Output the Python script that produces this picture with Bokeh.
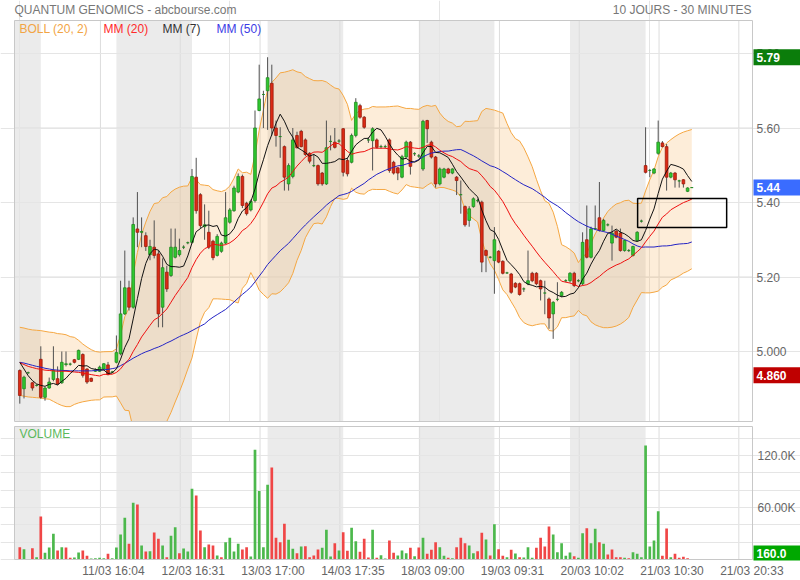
import numpy as np
import pandas as pd
from bokeh.plotting import figure
from bokeh.layouts import column
from bokeh.models import Range1d, FixedTicker, BoxAnnotation, ColumnDataSource
from bokeh.core.properties import value
from bokeh.embed import file_html
from bokeh.resources import INLINE

# ---------------- data ----------------
opens = [4.949, 4.900, 4.943, 4.916, 4.909, 4.979, 4.877, 4.902, 4.925, 4.927,
         4.916, 4.965, 4.966, 4.978, 4.979, 4.992, 4.953, 4.928, 4.947, 4.947,
         4.953, 4.964, 4.945, 4.971, 4.994, 5.101, 5.171, 5.119, 5.329, 5.320,
         5.311, 5.260, 5.280, 5.262, 5.119, 5.213, 5.204, 5.253, 5.260, 5.280,
         5.292, 5.293, 5.468, 5.421, 5.335, 5.320, 5.296, 5.258, 5.269, 5.291,
         5.347, 5.378, 5.428, 5.470, 5.398, 5.380, 5.405, 5.647, 5.690, 5.700,
         5.720, 5.600, 5.577, 5.550, 5.450, 5.470, 5.580, 5.591, 5.568, 5.532,
         5.499, 5.499, 5.479, 5.450, 5.564, 5.562, 5.565, 5.598, 5.513, 5.508,
         5.580, 5.660, 5.629, 5.568, 5.566, 5.568, 5.550, 5.550, 5.568, 5.508,
         5.493, 5.468, 5.522, 5.562, 5.531, 5.525, 5.490, 5.620, 5.562, 5.522,
         5.450, 5.468, 5.490, 5.479, 5.468, 5.421, 5.389, 5.352, 5.389, 5.405,
         5.401, 5.271, 5.253, 5.244, 5.269, 5.242, 5.211, 5.208, 5.183, 5.182,
         5.168, 5.182, 5.210, 5.210, 5.190, 5.157, 5.141, 5.101, 5.140, 5.150,
         5.190, 5.190, 5.210, 5.190, 5.182, 5.300, 5.253, 5.330, 5.359, 5.325,
         5.340, 5.291, 5.323, 5.318, 5.271, 5.271, 5.258, 5.298, 5.350, 5.499,
         5.486, 5.479, 5.532, 5.560, 5.550, 5.468, 5.479, 5.458, 5.461, 5.430,
         5.440]
highs = [4.952, 4.935, 4.946, 4.918, 4.912, 5.014, 4.905, 4.930, 5.014, 4.960,
         5.000, 5.000, 4.970, 4.980, 5.005, 4.995, 4.955, 4.930, 4.955, 4.962,
         4.969, 4.972, 4.948, 5.043, 5.190, 5.271, 5.190, 5.360, 5.428, 5.360,
         5.320, 5.300, 5.352, 5.270, 5.250, 5.230, 5.330, 5.330, 5.303, 5.285,
         5.295, 5.490, 5.520, 5.425, 5.395, 5.378, 5.300, 5.315, 5.295, 5.428,
         5.385, 5.445, 5.478, 5.475, 5.402, 5.408, 5.647, 5.770, 5.700, 5.790,
         5.770, 5.620, 5.602, 5.553, 5.505, 5.600, 5.590, 5.595, 5.572, 5.535,
         5.530, 5.502, 5.482, 5.620, 5.580, 5.600, 5.570, 5.600, 5.520, 5.585,
         5.680, 5.665, 5.632, 5.575, 5.602, 5.572, 5.555, 5.555, 5.572, 5.512,
         5.495, 5.528, 5.566, 5.565, 5.535, 5.530, 5.622, 5.622, 5.566, 5.525,
         5.494, 5.493, 5.493, 5.492, 5.471, 5.459, 5.392, 5.390, 5.414, 5.410,
         5.405, 5.274, 5.256, 5.334, 5.272, 5.245, 5.214, 5.211, 5.186, 5.185,
         5.172, 5.271, 5.214, 5.213, 5.193, 5.190, 5.145, 5.135, 5.186, 5.162,
         5.194, 5.213, 5.214, 5.194, 5.320, 5.392, 5.335, 5.392, 5.455, 5.356,
         5.344, 5.338, 5.326, 5.330, 5.300, 5.275, 5.284, 5.323, 5.354, 5.602,
         5.490, 5.492, 5.620, 5.565, 5.557, 5.482, 5.482, 5.461, 5.463, 5.441,
         5.441]
lows = [4.860, 4.874, 4.940, 4.895, 4.906, 4.873, 4.868, 4.900, 4.920, 4.910,
        4.913, 4.960, 4.962, 4.968, 4.977, 4.930, 4.913, 4.918, 4.945, 4.945,
        4.951, 4.936, 4.942, 4.968, 4.990, 5.098, 5.110, 5.115, 5.280, 5.280,
        5.270, 5.245, 5.250, 5.065, 5.065, 5.160, 5.200, 5.250, 5.255, 5.275,
        5.288, 5.290, 5.370, 5.330, 5.300, 5.275, 5.245, 5.255, 5.265, 5.288,
        5.343, 5.375, 5.425, 5.385, 5.365, 5.376, 5.400, 5.645, 5.600, 5.595,
        5.580, 5.550, 5.520, 5.432, 5.432, 5.465, 5.545, 5.548, 5.525, 5.505,
        5.495, 5.445, 5.445, 5.447, 5.540, 5.545, 5.560, 5.470, 5.470, 5.505,
        5.575, 5.625, 5.598, 5.560, 5.486, 5.545, 5.545, 5.545, 5.480, 5.475,
        5.460, 5.465, 5.520, 5.475, 5.525, 5.520, 5.485, 5.560, 5.518, 5.440,
        5.446, 5.465, 5.476, 5.476, 5.420, 5.370, 5.335, 5.335, 5.386, 5.400,
        5.213, 5.213, 5.250, 5.155, 5.237, 5.207, 5.208, 5.155, 5.170, 5.150,
        5.160, 5.178, 5.186, 5.178, 5.137, 5.100, 5.061, 5.034, 5.135, 5.146,
        5.186, 5.185, 5.173, 5.186, 5.178, 5.250, 5.250, 5.326, 5.322, 5.322,
        5.336, 5.244, 5.304, 5.268, 5.268, 5.267, 5.255, 5.295, 5.346, 5.478,
        5.468, 5.476, 5.528, 5.548, 5.432, 5.465, 5.440, 5.440, 5.440, 5.428,
        5.439]
closes = [4.882, 4.931, 4.943, 4.902, 4.909, 4.877, 4.902, 4.918, 4.949, 4.913,
          4.971, 4.967, 4.966, 4.971, 5.003, 4.936, 4.918, 4.920, 4.950, 4.958,
          4.967, 4.938, 4.945, 4.997, 5.101, 5.171, 5.119, 5.341, 5.320, 5.322,
          5.282, 5.282, 5.258, 5.101, 5.225, 5.168, 5.280, 5.280, 5.271, 5.280,
          5.292, 5.470, 5.378, 5.338, 5.340, 5.280, 5.252, 5.309, 5.291, 5.359,
          5.380, 5.439, 5.470, 5.392, 5.370, 5.403, 5.600, 5.678, 5.690, 5.735,
          5.600, 5.580, 5.577, 5.468, 5.499, 5.568, 5.547, 5.550, 5.529, 5.511,
          5.499, 5.450, 5.450, 5.547, 5.564, 5.548, 5.565, 5.481, 5.477, 5.580,
          5.669, 5.629, 5.602, 5.568, 5.598, 5.548, 5.550, 5.550, 5.486, 5.479,
          5.479, 5.523, 5.562, 5.497, 5.531, 5.525, 5.618, 5.598, 5.522, 5.450,
          5.490, 5.490, 5.479, 5.490, 5.459, 5.421, 5.340, 5.383, 5.410, 5.405,
          5.240, 5.258, 5.253, 5.300, 5.240, 5.210, 5.211, 5.159, 5.173, 5.153,
          5.168, 5.190, 5.190, 5.182, 5.168, 5.157, 5.090, 5.132, 5.140, 5.159,
          5.190, 5.210, 5.177, 5.190, 5.293, 5.253, 5.329, 5.330, 5.325, 5.352,
          5.340, 5.318, 5.307, 5.271, 5.298, 5.271, 5.282, 5.320, 5.350, 5.481,
          5.486, 5.490, 5.562, 5.550, 5.468, 5.479, 5.461, 5.458, 5.450, 5.439,
          5.440]
volumes = [14200, 11900, 300, 13000, 2700, 49600, 7700, 13800, 29600, 10400,
           14200, 13800, 1900, 2300, 8100, 10400, 4200, 1200, 1500, 1900,
           1500, 6500, 1500, 13800, 28800, 48100, 18100, 65400, 63500, 16200,
           9200, 9600, 31200, 23800, 16200, 2700, 27300, 37300, 7300, 12700,
           9200, 81500, 73900, 33500, 14200, 17300, 16200, 4600, 2700, 20000,
           25000, 9200, 18100, 11500, 14200, 3500, 126500, 78900, 14200, 86200,
           106200, 25000, 20000, 41200, 22700, 12300, 7300, 15000, 15400, 2700,
           4600, 11500, 13500, 34200, 3500, 18800, 10400, 31500, 10000, 36500,
           21200, 8800, 23800, 2300, 34200, 1900, 5000, 1200, 21900, 7700,
           4600, 10400, 7300, 13500, 3800, 13800, 25000, 6500, 11200, 20000,
           14200, 4200, 1900, 1500, 14200, 25000, 18800, 16200, 7300, 9600,
           30800, 23100, 4600, 40800, 11900, 4200, 2700, 11200, 6900, 2700,
           2300, 14200, 1900, 13500, 25000, 15000, 38100, 28800, 8500, 18800,
           4200, 8100, 3800, 1900, 30400, 36200, 18800, 35400, 20000, 18100,
           5800, 11500, 2700, 2700, 1900, 1500, 8500, 6500, 2700, 131500,
           15000, 21900, 55800, 4200, 35800, 2700, 6500, 1900, 3100, 1500,
           160]

# indicator values before the window is full (earlier history not shown)
ma7_head = [4.971, 4.953, 4.935, 4.922, 4.913, 4.909]
ma20_head = [4.970, 4.965, 4.960, 4.957, 4.954, 4.952, 4.950, 4.949, 4.948, 4.947,
             4.947, 4.947, 4.946, 4.945, 4.944, 4.942, 4.940, 4.938, 4.936]
boll_up_head = [5.065, 5.063, 5.060, 5.058, 5.057, 5.056, 5.054, 5.052, 5.051, 5.048,
                5.047, 5.045, 5.040, 5.038, 5.030, 5.020, 5.012, 5.005, 5.000]
boll_lo_head = [4.882, 4.880, 4.878, 4.877, 4.876, 4.875, 4.873, 4.872, 4.866, 4.860,
                4.855, 4.852, 4.852, 4.858, 4.862, 4.865, 4.867, 4.869, 4.870]
ma50_head = [4.971, 4.969, 4.966, 4.963, 4.960, 4.958, 4.955, 4.953, 4.951, 4.950,
             4.949, 4.949, 4.948, 4.948, 4.948, 4.948, 4.948, 4.948, 4.949, 4.950,
             4.951, 4.952, 4.954, 4.956, 4.962, 4.968, 4.975, 4.982, 4.988, 4.994,
             4.999, 5.003, 5.008, 5.012, 5.017, 5.023, 5.028, 5.034, 5.040, 5.045,
             5.050, 5.056, 5.062, 5.068, 5.074, 5.084, 5.092, 5.099, 5.106]

day_starts = [0, 5, 23, 41, 59, 77, 95, 113, 131, 149]
date_labels = ["11/03 16:04", "12/03 16:31", "13/03 17:00", "14/03 17:35", "18/03 09:00",
               "19/03 09:31", "20/03 10:02", "21/03 10:30", "21/03 20:33"]
price_ticks = [5.0, 5.2, 5.4, 5.6, 5.8]
price_tick_labels = ["5.000", "5.20", "5.40", "5.60", "5.80"]
vol_ticks = [60000, 120000]
vol_tick_labels = ["60.00K", "120.0K"]
legend_names = ["BOLL (20, 2)", "MM (20)", "MM (7)", "MM (50)"]
title_text = "QUANTUM GENOMICS - abcbourse.com"
period_text = "10 JOURS - 30 MINUTES"

# ---------------- layout (page pixels -> data units) ----------------
FONT = "Liberation Sans"


def px2i(px):        # page x -> bar index
    return (px - 19.3) / 4.2


def py2p(py):        # page y -> price (price panel)
    return 5.0 + (351.0 - py) / 372.5


VPP = 60000 / 52.0


def py2v(py):        # page y -> volume (volume panel)
    return (559.0 - py) * VPP


X_L, X_R = px2i(14), px2i(752)
Y_TOP, Y_BOT = py2p(20), py2p(421)
V_TOP, V_BOT = py2v(426), 0.0
XGRID = [19.2 + 19 * k for k in range(9)]
XLAB = [22.3 + 19 * k for k in range(8)] + [174.3]
LOW_TAG_Y = 4.936
BOX = dict(left=147.1, right=168.3, bottom=5.333, top=5.411)

UP_FILL, UP_EDGE = "#2fc82f", "#1f8a1f"
DN_FILL, DN_EDGE = "#dc2a14", "#9a1c0c"
V_UP, V_DN = "#4cb84c", "#f04646"
SHADE = "#ebebeb"
GRIDC = "#dcdcdc"
BORDER = "#c8c8c8"
LABC = "#666666"
TXT = dict(text_font=value(FONT), text_font_size="12px")

# ---------------- indicators ----------------
n = len(closes)
cs = pd.Series(closes, dtype=float)
ma7 = cs.rolling(7).mean().to_numpy()
ma7[:len(ma7_head)] = ma7_head
ma20 = cs.rolling(20).mean().to_numpy()
sd20 = cs.rolling(20).std(ddof=0).to_numpy()
bup = ma20 + 2 * sd20
blo = ma20 - 2 * sd20
ma20[:len(ma20_head)] = ma20_head
bup[:len(boll_up_head)] = boll_up_head
blo[:len(boll_lo_head)] = boll_lo_head
ma50 = cs.rolling(50).mean().to_numpy()
ma50[:len(ma50_head)] = ma50_head

o = np.array(opens); c = np.array(closes)
up = c >= o
prev = np.concatenate([[o[0]], c[:-1]])
vup = c >= prev

src = ColumnDataSource(dict(
    x=np.arange(n), high=highs, low=lows,
    top=np.maximum(o, c), bot=np.minimum(o, c),
    fill=[UP_FILL if u else DN_FILL for u in up],
    edge=[UP_EDGE if u else DN_EDGE for u in up],
    ma7=ma7, ma20=ma20, ma50=ma50, bup=bup, blo=blo,
    vol=volumes, vcol=[V_UP if u else V_DN for u in vup],
))

xr = Range1d(px2i(0), px2i(800))


def shade(fig, top, bottom):
    for k in range(0, len(day_starts), 2):
        left = X_L if k == 0 else day_starts[k]
        right = day_starts[k + 1]
        fig.add_layout(BoxAnnotation(left=left, right=right, top=top, bottom=bottom,
                                     fill_color=SHADE, fill_alpha=1.0, line_color=None,
                                     level="image"))


def grid(fig, ticks, top, bottom):
    fig.segment(x0=XGRID, y0=[bottom] * len(XGRID), x1=XGRID, y1=[top] * len(XGRID),
                line_color=GRIDC, line_width=1, level="underlay")
    fig.segment(x0=[X_L] * len(ticks), y0=ticks, x1=[X_R] * len(ticks), y1=ticks,
                line_color=GRIDC, line_width=1, level="underlay")


def tags(fig, ys, texts, colors, x_text, x_box):
    fig.rect(x=[x_box] * len(ys), y=ys, width=47, height=16, width_units="screen",
             height_units="screen", fill_color=colors, line_color=None)
    fig.text(x=[x_text] * len(ys), y=ys, text=texts, text_color="white",
             text_font_style="bold", text_baseline="middle", text_align="left", **TXT)


# ---------------- price panel (with header) ----------------
p = figure(width=800, height=424, x_range=xr, y_range=Range1d(py2p(424), py2p(0)),
           output_backend="svg", toolbar_location=None,
           x_axis_location=None, y_axis_location=None, min_border=0,
           background_fill_color="white", border_fill_color="white", outline_line_color=None)
shade(p, Y_TOP, Y_BOT)
grid(p, price_ticks, Y_TOP, Y_BOT)

p.varea(x="x", y1="blo", y2="bup", source=src, fill_color="#f5a742", fill_alpha=0.2)
p.line(x="x", y="bup", source=src, line_color="#f5a742", line_width=1)
p.line(x="x", y="blo", source=src, line_color="#f5a742", line_width=1)
p.segment(x0="x", y0="low", x1="x", y1="high", source=src, line_color="#505050", line_width=1)
p.vbar(x="x", width=0.64, top="top", bottom="bot", source=src,
       fill_color="fill", line_color="edge", line_width=0.8)
p.line(x="x", y="ma50", source=src, line_color="#2424c4", line_width=1)
p.line(x="x", y="ma20", source=src, line_color="#ee1010", line_width=1)
p.line(x="x", y="ma7", source=src, line_color="#111111", line_width=1)
p.quad(left=[BOX["left"]], right=[BOX["right"]], bottom=[BOX["bottom"]], top=[BOX["top"]],
       fill_alpha=0, line_color="black", line_width=1.5)

# keep what falls below the panel out of the gap, then the panel border
p.add_layout(BoxAnnotation(top=Y_BOT, fill_color="white", fill_alpha=1.0, line_color=None))
p.add_layout(BoxAnnotation(left=X_L, right=X_R, top=Y_TOP, bottom=Y_BOT, fill_color=None,
                           fill_alpha=0, line_color=BORDER, line_width=1, line_alpha=1.0))

p.text(x=[px2i(14)], y=[py2p(9)], text=[title_text], text_color="#777777",
       text_baseline="middle", text_align="left", **TXT)
p.text(x=[px2i(751)], y=[py2p(9)], text=[period_text], text_color="#777777",
       text_baseline="middle", text_align="right", **TXT)
p.text(x=[px2i(19), px2i(103), px2i(162), px2i(216)], y=[py2p(28)] * 4, text=legend_names,
       text_color=["#f2a444", "#ff2a2a", "#333333", "#3c3ce6"],
       text_baseline="middle", text_align="left", **TXT)
p.text(x=[px2i(756)] * len(price_ticks), y=price_ticks, text=price_tick_labels,
       text_color=LABC, text_baseline="middle", text_align="left", **TXT)
tags(p, [max(highs), closes[-1], LOW_TAG_Y],
     [f"{max(highs):.2f}", f"{closes[-1]:.2f}", f"{min(lows):.3f}"],
     ["#0b7d0b", "#3a6cff", "#bf0000"], px2i(756), px2i(776.5))

# ---------------- volume panel ----------------
v = figure(width=800, height=156, x_range=xr, y_range=Range1d(py2v(560), py2v(424)),
           output_backend="svg", toolbar_location=None,
           x_axis_location="below", y_axis_location=None,
           min_border=0, min_border_bottom=20,
           background_fill_color="white", border_fill_color="white", outline_line_color=None)
v.xgrid.grid_line_color = None
v.xaxis.ticker = FixedTicker(ticks=XLAB)
v.xaxis.major_label_overrides = {t: s for t, s in zip(XLAB, date_labels)}
xa = v.xaxis[0]
xa.axis_line_color = None
xa.major_tick_line_color = None
xa.minor_tick_line_color = None
xa.major_tick_out = 0
xa.major_tick_in = 0
xa.minor_tick_out = 0
xa.major_label_standoff = 3
xa.major_label_text_font = FONT
xa.major_label_text_font_size = "12px"
xa.major_label_text_color = LABC

shade(v, V_TOP, V_BOT)
grid(v, vol_ticks, V_TOP, V_BOT)
v.vbar(x="x", width=0.64, top="vol", bottom=0, source=src, fill_color="vcol", line_color=None)
v.add_layout(BoxAnnotation(left=X_L, right=X_R, top=V_TOP, bottom=V_BOT, fill_color=None,
                           fill_alpha=0, line_color=BORDER, line_width=1, line_alpha=1.0))
v.text(x=[px2i(19)], y=[py2v(433)], text=["VOLUME"], text_color="#5cb85c",
       text_baseline="middle", text_align="left", **TXT)
v.text(x=[px2i(757)] * len(vol_ticks), y=vol_ticks, text=vol_tick_labels,
       text_color=LABC, text_baseline="middle", text_align="left", **TXT)
tags(v, [py2v(553)], [f"{volumes[-1]:.1f}"], ["#00a800"], px2i(756), px2i(776.5))

layout = column(p, v, spacing=0)
open("out.html", "w").write(file_html(layout, INLINE))
